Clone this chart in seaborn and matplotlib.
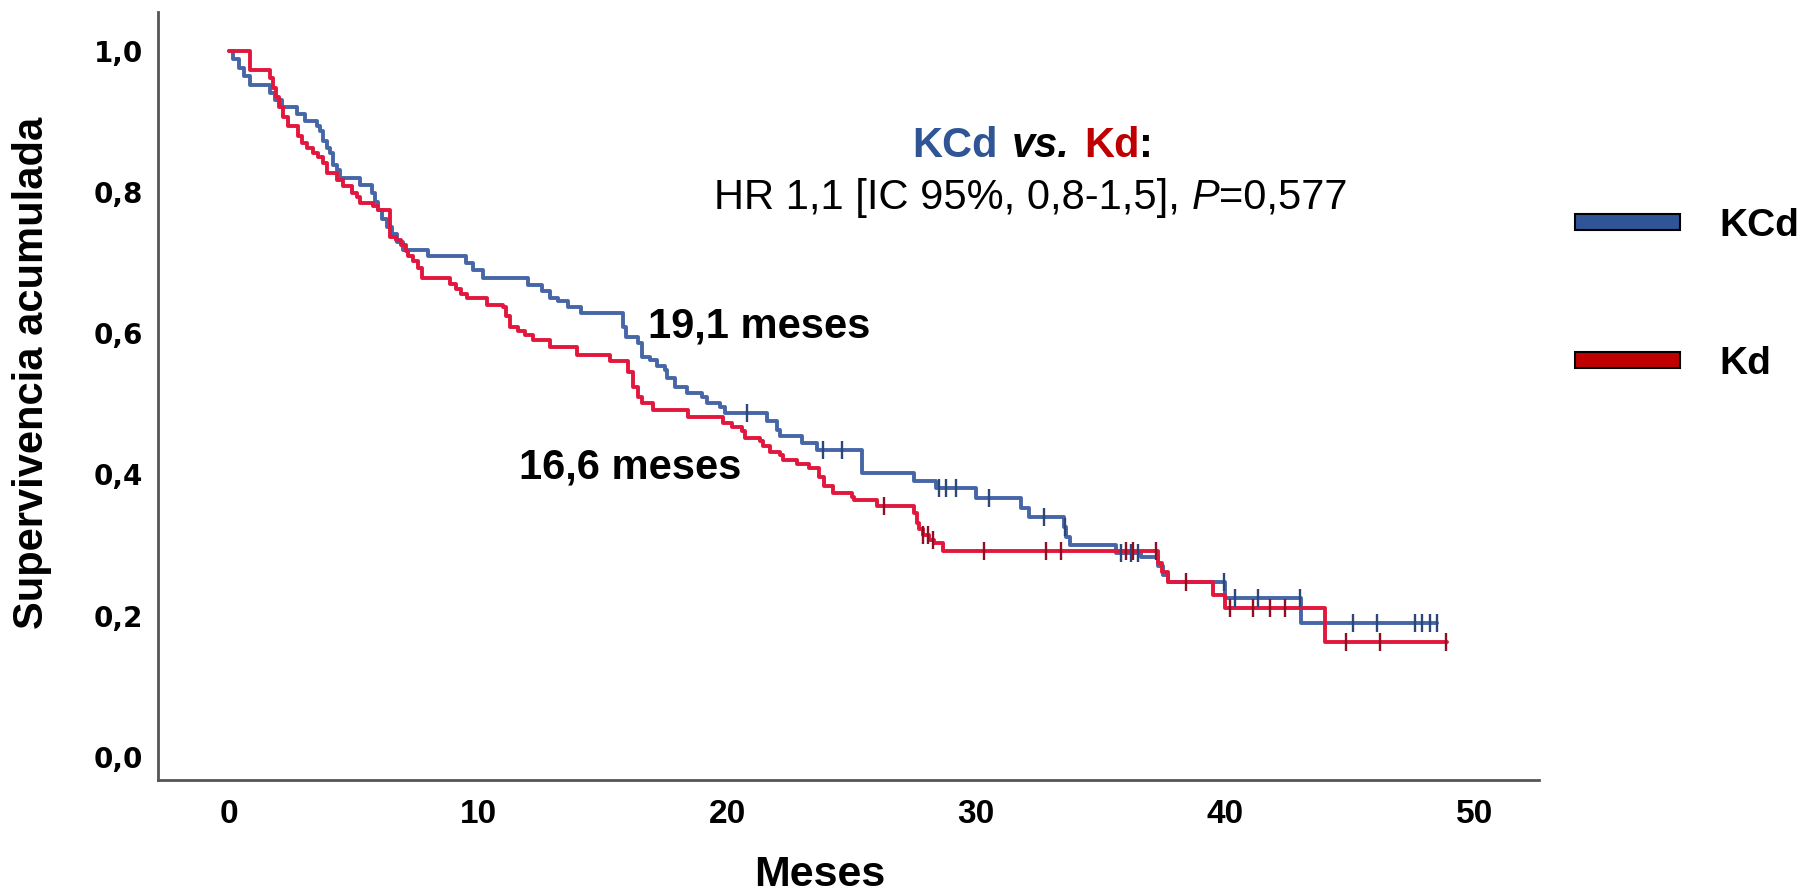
import numpy as np
import pandas as pd
import matplotlib
matplotlib.use('Agg')
import matplotlib.pyplot as plt
import seaborn as sns
from matplotlib.patches import Patch
from matplotlib.offsetbox import TextArea, HPacker, AnnotationBbox

# Kaplan-Meier curves (months, cumulative survival)
kcd_t = [0, 0.17, 0.4, 0.6, 0.84, 1.65, 1.85, 2.11, 2.72, 3.05, 3.52, 3.65, 3.79, 3.92, 4.05, 4.19, 4.32, 4.45,
         5.26, 5.73, 5.85, 6.0, 6.15, 6.35, 6.55, 6.75, 6.99, 8.0, 9.5, 9.8, 10.2, 12.0, 12.56, 12.9, 13.2,
         13.6, 14.15, 15.82, 15.95, 16.4, 16.56, 16.9, 17.2, 17.5, 17.6, 17.9, 18.4, 19.0, 19.2, 19.7, 19.9,
         21.6, 22.0, 22.1, 23.0, 23.6, 25.4, 27.5, 28.4, 30.0, 31.8, 32.1, 33.5, 33.6, 33.75, 35.6, 36.6,
         37.3, 37.5, 37.7, 40.0, 43.05, 48.5]
kcd_s = [1.0, 0.988, 0.976, 0.964, 0.952, 0.940, 0.930, 0.921, 0.911, 0.900, 0.893, 0.886, 0.872, 0.862,
         0.855, 0.839, 0.831, 0.820, 0.810, 0.798, 0.786, 0.775, 0.762, 0.750, 0.740, 0.729, 0.718, 0.709,
         0.699, 0.689, 0.678, 0.669, 0.660, 0.650, 0.645, 0.637, 0.628, 0.609, 0.595, 0.586, 0.567, 0.562,
         0.553, 0.548, 0.536, 0.524, 0.515, 0.510, 0.501, 0.496, 0.487, 0.475, 0.463, 0.454, 0.444, 0.435,
         0.402, 0.390, 0.381, 0.366, 0.353, 0.340, 0.326, 0.312, 0.300, 0.289, 0.283, 0.270, 0.258, 0.247,
         0.225, 0.189, 0.189]
kcd_cens = [20.8, 23.85, 24.6, 28.5, 28.8, 29.2, 30.5, 32.7, 33.55, 35.8, 36.2, 36.5, 39.95, 40.4, 41.3,
            43.0, 45.1, 46.1, 47.6, 47.9, 48.2, 48.5]

kd_t = [0, 0.84, 1.65, 1.75, 1.9, 2.0, 2.15, 2.38, 2.78, 2.92, 3.12, 3.39, 3.59, 3.79, 3.92, 4.32, 4.59,
        4.92, 5.12, 5.26, 5.8, 6.0, 6.46, 6.7, 6.9, 7.1, 7.2, 7.4, 7.6, 7.73, 8.87, 9.1, 9.3, 9.54, 10.34,
        11.0, 11.1, 11.3, 11.6, 11.9, 12.2, 12.88, 13.95, 15.3, 16.0, 16.2, 16.4, 16.56, 17.03, 18.43,
        19.84, 20.2, 20.6, 20.7, 21.3, 21.45, 21.7, 22.1, 22.25, 22.8, 23.3, 23.7, 23.9, 24.25, 25.0, 25.1,
        26.0, 27.5, 27.6, 27.7, 27.85, 28.1, 28.3, 28.66, 37.3, 37.45, 37.7, 39.5, 40.0, 44.0, 48.9]
kd_s = [1.0, 0.973, 0.962, 0.948, 0.934, 0.920, 0.906, 0.893, 0.879, 0.869, 0.862, 0.855, 0.850, 0.841,
        0.827, 0.817, 0.808, 0.798, 0.793, 0.784, 0.780, 0.775, 0.737, 0.732, 0.725, 0.716, 0.709, 0.702,
        0.692, 0.678, 0.670, 0.662, 0.655, 0.650, 0.640, 0.637, 0.624, 0.609, 0.603, 0.598, 0.590, 0.581,
        0.569, 0.560, 0.545, 0.524, 0.510, 0.501, 0.491, 0.482, 0.473, 0.467, 0.461, 0.451, 0.447, 0.440,
        0.432, 0.428, 0.421, 0.415, 0.409, 0.396, 0.383, 0.373, 0.368, 0.364, 0.355, 0.345, 0.331, 0.322,
        0.314, 0.307, 0.303, 0.291, 0.275, 0.262, 0.247, 0.229, 0.211, 0.162, 0.162]
kd_cens = [26.3, 27.85, 28.05, 28.25, 30.3, 32.8, 33.4, 36.0, 36.3, 37.2, 38.4, 40.2, 41.1, 41.8, 42.4,
           44.85, 46.2, 48.85]

y_ticks = [0.0, 0.2, 0.4, 0.6, 0.8, 1.0]
y_labels = ['0,0', '0,2', '0,4', '0,6', '0,8', '1,0']
x_ticks = [0, 10, 20, 30, 40, 50]

line_col = {'KCd': '#4766a8', 'Kd': '#e2173d'}
cens_col = {'KCd': '#2d4678', 'Kd': '#8e0f22'}
patch_col = {'KCd': '#2f5597', 'Kd': '#c00000'}

sns.set_style('white')
plt.rcParams['font.family'] = ['Liberation Sans', 'DejaVu Sans']
plt.rcParams['text.color'] = 'black'
plt.rcParams['axes.labelcolor'] = 'black'
plt.rcParams['xtick.color'] = 'black'
plt.rcParams['ytick.color'] = 'black'

df = pd.concat([
    pd.DataFrame({'t': kcd_t, 's': kcd_s, 'grupo': 'KCd'}),
    pd.DataFrame({'t': kd_t, 's': kd_s, 'grupo': 'Kd'}),
], ignore_index=True)

fig = plt.figure(figsize=(18.2, 8.94), dpi=100)
ax = fig.add_axes([0.0868, 0.1275, 0.759, 0.859])

sns.lineplot(data=df, x='t', y='s', hue='grupo', palette=line_col, estimator=None, sort=False,
             drawstyle='steps-post', linewidth=2.8, legend=False, ax=ax)

# censor marks sit on the curve level at that time
for name, tt, ss, cc in [('KCd', kcd_t, kcd_s, kcd_cens), ('Kd', kd_t, kd_s, kd_cens)]:
    idx = np.searchsorted(tt, cc, side='right') - 1
    lev = np.array(ss)[idx]
    ax.plot(cc, lev, ls='none', marker='|', ms=13, mew=1.7, color=cens_col[name])

ax.set_xlim(-2.85, 52.6)
ax.set_ylim(-0.033, 1.055)
ax.set_xticks(x_ticks)
ax.set_xticklabels([str(v) for v in x_ticks], fontsize=24, fontweight='bold')
ax.set_yticks(y_ticks)
ax.set_yticklabels(y_labels, fontsize=20, fontweight='bold', family=['DejaVu Sans'])
ax.tick_params(axis='both', length=0)
ax.tick_params(axis='y', pad=11)
ax.tick_params(axis='x', pad=14)

for side in ['top', 'right']:
    ax.spines[side].set_visible(False)
for side in ['left', 'bottom']:
    ax.spines[side].set_color('#555555')
    ax.spines[side].set_linewidth(2)

ax.set_ylabel('Supervivencia acumulada', fontsize=30, fontweight='bold', va='center')
ax.yaxis.set_label_coords(-0.091, 0.53)
ax.set_xlabel('Meses', fontsize=31, fontweight='bold', va='center')
ax.xaxis.set_label_coords(0.479, -0.124)

ax.text(0.3546, 0.590, '19,1 meses', transform=ax.transAxes, fontsize=30, fontweight='bold',
        ha='left', va='center')
ax.text(0.2612, 0.4076, '16,6 meses', transform=ax.transAxes, fontsize=30, fontweight='bold',
        ha='left', va='center')

# two-line header with coloured group names
fs = 30
line1 = HPacker(children=[
    TextArea('KCd', textprops=dict(color=patch_col['KCd'], fontsize=fs, fontweight='bold')),
    TextArea('vs.', textprops=dict(color='black', fontsize=fs, fontweight='bold', style='italic')),
    TextArea('Kd', textprops=dict(color=patch_col['Kd'], fontsize=fs, fontweight='bold')),
], sep=10, pad=0, align='baseline')
colon = TextArea(':', textprops=dict(color='black', fontsize=fs, fontweight='bold'))
line1 = HPacker(children=[line1, colon], sep=0, pad=0, align='baseline')
fig.add_artist(AnnotationBbox(line1, (1033 / 1820, 1 - 146 / 894), xycoords='figure fraction',
                              frameon=False, box_alignment=(0.5, 0.5), pad=0))

line2 = HPacker(children=[
    TextArea('HR 1,1 [IC 95%, 0,8-1,5], ', textprops=dict(color='black', fontsize=fs)),
    TextArea('P', textprops=dict(color='black', fontsize=fs, style='italic')),
    TextArea('=0,577', textprops=dict(color='black', fontsize=fs)),
], sep=0, pad=0, align='baseline')
fig.add_artist(AnnotationBbox(line2, (1031 / 1820, 1 - 198 / 894), xycoords='figure fraction',
                              frameon=False, box_alignment=(0.5, 0.5), pad=0))

handles = [Patch(facecolor=patch_col[g], edgecolor='black', linewidth=1.5, label=g) for g in ['KCd', 'Kd']]
fig.legend(handles=handles, loc='upper left', bbox_to_anchor=(1575 / 1820, 1 - 208 / 894),
           frameon=False, borderpad=0, borderaxespad=0, handlelength=2.7, handleheight=0.28,
           handletextpad=1.0, labelspacing=2.62, prop=dict(size=28, weight='bold'))

fig.savefig('out.png', dpi=100, facecolor='white')
